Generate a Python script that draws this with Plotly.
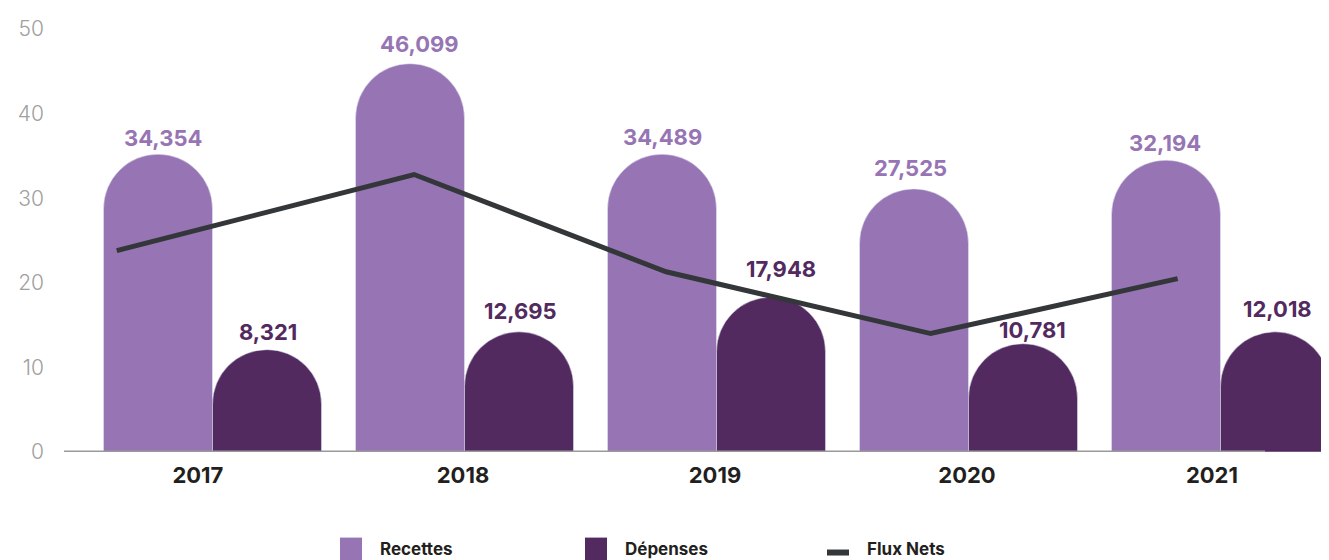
import plotly.graph_objects as go

annees = ["2017", "2018", "2019", "2020", "2021"]
recettes_valeurs = [34354, 46099, 34489, 27525, 32194]
depenses_valeurs = [8321, 12695, 17948, 10781, 12018]
# bar heights as drawn in the picture (axis units)
recettes_hauteur = [35.2, 45.9, 35.2, 31.1, 34.5]
depenses_hauteur = [12.1, 14.2, 18.3, 12.8, 14.2]
# Flux Nets line as drawn (position along the year axis, value)
flux_pos = [-0.38, 0.80, 1.80, 2.85, 3.83]
flux_nets = [23.8, 32.8, 21.3, 14.0, 20.5]
y_ticks = [0, 10, 20, 30, 40, 50]

# label placement tweaks (pixels) as in the picture
rec_gap = [7, 11, 8, 12, 8]
dep_gap = [9, 12, 19, 5, 14]
rec_dx = [5, 9, 0, -4, -1]
dep_dx = [1, 1, 10, 9, 3]
tick_dx = [-0.058, -0.006, -0.006, -0.006, -0.034]

C_REC = "#9775B4"
C_DEP = "#522A60"
C_LINE = "#33373A"

W, H = 1329, 560
OFF = 8  # page body offset
SL, SR, ST, SB = 65, 1329, 27, 452
ML, MT = SL - OFF, ST - OFF
MR = W - (SR - OFF)
MB = H - (SB - OFF)
PW, PH = SR - SL, SB - ST
BARGAP = 0.135

def px(x):
    return (x - SL) / PW

def py(y):
    return (SB - y) / PH

idx = list(range(len(annees)))
fig = go.Figure()
fig.add_trace(go.Bar(x=idx, y=recettes_hauteur, name="Recettes", marker_color=C_REC))
fig.add_trace(go.Bar(x=idx, y=depenses_hauteur, name="Dépenses", marker_color=C_DEP))
fig.add_trace(go.Scatter(
    x=flux_pos, y=flux_nets, name="Flux Nets", mode="lines",
    line=dict(color=C_LINE, width=5), cliponaxis=False,
))

annots = []
off = (1 - BARGAP) / 4
for series, heights, col, sgn, gaps, dxs in [
    (recettes_valeurs, recettes_hauteur, C_REC, -1, rec_gap, rec_dx),
    (depenses_valeurs, depenses_hauteur, C_DEP, 1, dep_gap, dep_dx),
]:
    for i, (v, h) in enumerate(zip(series, heights)):
        annots.append(dict(
            text=f"{v:,}", x=i + sgn * off, y=h, xref="x", yref="y",
            xanchor="center", yanchor="bottom", showarrow=False,
            xshift=dxs[i], yshift=gaps[i] - 6,
            font=dict(family="Inter", size=22, color=col, weight=700),
        ))

# axis baseline
fig.add_shape(type="line", xref="paper", yref="y", x0=px(64), x1=px(1265), y0=0, y1=0,
              line=dict(color="#999999", width=3), layer="above")

# manual legend
leg = [("Recettes", C_REC, "rect", 340), ("Dépenses", C_DEP, "rect", 585), ("Flux Nets", C_LINE, "line", 824)]
for name, col, kind, x0 in leg:
    if kind == "rect":
        fig.add_shape(type="rect", xref="paper", yref="paper",
                      x0=px(x0), x1=px(x0 + 22), y0=py(538), y1=py(561),
                      fillcolor=col, line=dict(width=0))
        tx = x0 + 38
    else:
        fig.add_shape(type="line", xref="paper", yref="paper",
                      x0=px(x0 + 3), x1=px(x0 + 25), y0=py(553), y1=py(553),
                      line=dict(color=col, width=6))
        tx = x0 + 41
    annots.append(dict(text=name, xref="paper", yref="paper", x=px(tx), y=py(549),
                       xanchor="left", yanchor="middle", showarrow=False,
                       font=dict(family="Inter", size=17, color="#231F20", weight=700)))

fig.update_layout(
    width=W, height=H,
    margin=dict(l=ML, r=MR, t=MT, b=MB),
    plot_bgcolor="white", paper_bgcolor="white",
    barmode="group", bargap=BARGAP, bargroupgap=0, barcornerradius="50%",
    showlegend=False, annotations=annots,
    xaxis=dict(
        range=[(SL - 212.5) / 252, (SR - 212.5) / 252],
        tickvals=[i + d for i, d in zip(idx, tick_dx)], ticktext=annees,
        showgrid=False, zeroline=False,
        showline=False, ticks="", ticklabelstandoff=8,
        tickfont=dict(family="Inter", size=22, color="#231F20", weight=700),
    ),
    yaxis=dict(
        range=[0, 50], tickvals=y_ticks, showgrid=False, zeroline=False,
        showline=False, ticks="", ticklabelstandoff=20,
        tickfont=dict(family="Inter", size=21, color="#A0A0A0", weight=300),
    ),
)

fig.write_html("out.html")
